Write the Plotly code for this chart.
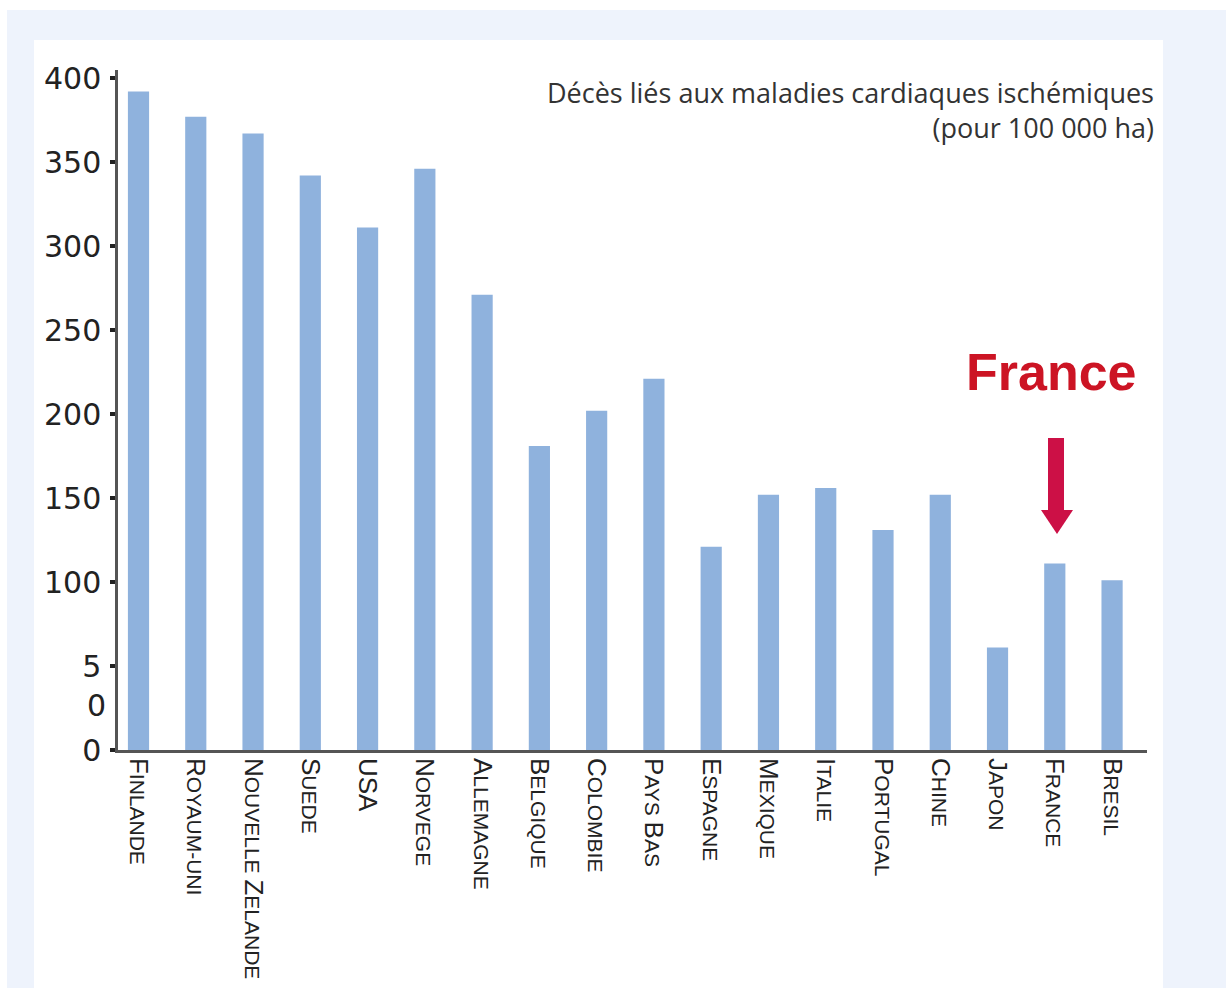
import plotly.graph_objects as go

# ---- data ----
countries = ["FINLANDE", "ROYAUM-UNI", "NOUVELLE ZELANDE", "SUEDE", "USA", "NORVEGE",
             "ALLEMAGNE", "BELGIQUE", "COLOMBIE", "PAYS BAS", "ESPAGNE", "MEXIQUE",
             "ITALIE", "PORTUGAL", "CHINE", "JAPON", "FRANCE", "BRESIL"]
# small-caps style labels (big first letters)
country_labels = [
    "F<span style='font-size:21px'>INLANDE</span>",
    "R<span style='font-size:21px'>OYAUM-UNI</span>",
    "N<span style='font-size:21px'>OUVELLE </span>Z<span style='font-size:21px'>ELANDE</span>",
    "S<span style='font-size:21px'>UEDE</span>",
    "USA",
    "N<span style='font-size:21px'>ORVEGE</span>",
    "A<span style='font-size:21px'>LLEMAGNE</span>",
    "B<span style='font-size:21px'>ELGIQUE</span>",
    "C<span style='font-size:21px'>OLOMBIE</span>",
    "P<span style='font-size:21px'>AYS </span>B<span style='font-size:21px'>AS</span>",
    "E<span style='font-size:21px'>SPAGNE</span>",
    "M<span style='font-size:21px'>EXIQUE</span>",
    "I<span style='font-size:21px'>TALIE</span>",
    "P<span style='font-size:21px'>ORTUGAL</span>",
    "C<span style='font-size:21px'>HINE</span>",
    "J<span style='font-size:21px'>APON</span>",
    "F<span style='font-size:21px'>RANCE</span>",
    "B<span style='font-size:21px'>RESIL</span>",
]
deaths = [392, 377, 367, 342, 311, 346, 271, 181, 202, 221, 121, 152, 156, 131, 152, 61, 111, 101]
ytick_vals = [0, 50, 100, 150, 200, 250, 300, 350, 400]
ytick_text = ["0", "5", "100", "150", "200", "250", "300", "350", "400"]
title_text = "Décès liés aux maladies cardiaques ischémiques<br>(pour 100 000 ha)"

# ---- layout geometry (pixels) ----
W, H = 1226, 988
L, R, T, B = 118, 1147, 70, 750


def px(x):
    return (x - L) / (R - L)


def py(y):
    return (B - y) / (B - T)


fig = go.Figure()
fig.add_trace(go.Bar(
    x=countries, y=deaths,
    marker=dict(color="#8fb2dd", line=dict(width=0)),
    width=0.37,
    hoverinfo="x+y",
))

shapes = [
    # light blue page background
    dict(type="rect", xref="paper", yref="paper", x0=px(7), x1=px(W + 5),
         y0=py(H + 5), y1=py(10), fillcolor="#eef3fc", line=dict(width=0), layer="below"),
    # white panel
    dict(type="rect", xref="paper", yref="paper", x0=px(34), x1=px(1163),
         y0=py(H + 5), y1=py(40), fillcolor="#ffffff", line=dict(width=0), layer="below"),
    # arrow shaft
    dict(type="rect", xref="paper", yref="paper", x0=px(1048), x1=px(1064),
         y0=py(511), y1=py(438), fillcolor="#cc1046", line=dict(width=0)),
    # arrow head
    dict(type="path", xref="paper", yref="paper",
         path=f"M {px(1041)} {py(510)} L {px(1073)} {py(510)} L {px(1057)} {py(534)} Z",
         fillcolor="#cc1046", line=dict(width=0)),
]

annotations = [
    dict(text=title_text, xref="paper", yref="paper", x=px(1156), y=py(110),
         xanchor="right", yanchor="middle", align="right", showarrow=False,
         font=dict(family="Open Sans", size=27, color="#333333")),
    dict(text="<b>France</b>", xref="paper", yref="paper", x=px(1051), y=py(372),
         xanchor="center", yanchor="middle", showarrow=False,
         font=dict(family="Liberation Sans, Arial", size=52, color="#cc1424")),
    dict(text="0", xref="paper", yref="y", x=px(108), y=26.5,
         xanchor="right", yanchor="middle", showarrow=False,
         font=dict(family="DejaVu Sans", size=30, color="#222222")),
]

fig.update_layout(
    width=W, height=H,
    margin=dict(l=L, r=W - R, t=T, b=H - B, autoexpand=False),
    paper_bgcolor="#ffffff",
    plot_bgcolor="#ffffff",
    showlegend=False,
    shapes=shapes,
    annotations=annotations,
)
fig.update_xaxes(
    range=[-0.358, 17.61],
    tickmode="array", tickvals=countries, ticktext=country_labels,
    tickangle=90,
    tickfont=dict(family="Liberation Sans, Arial", size=26, color="#222222"),
    showline=True, linecolor="#555555", linewidth=2.5,
    ticks="", showgrid=False, zeroline=False, automargin=False,
)
fig.update_yaxes(
    range=[0, (B - T) / 1.68],
    tickmode="array", tickvals=ytick_vals, ticktext=ytick_text,
    tickfont=dict(family="DejaVu Sans", size=30, color="#222222"),
    showline=True, linecolor="#555555", linewidth=2.5,
    ticks="outside", ticklen=5, tickwidth=4, tickcolor="#222222",
    ticklabelstandoff=3,
    showgrid=False, zeroline=False, automargin=False,
)

fig.write_html("out.html")
